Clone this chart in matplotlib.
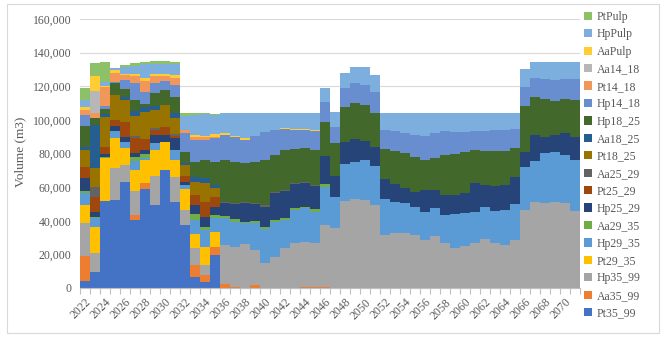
import numpy as np
import matplotlib
matplotlib.use("Agg")
import matplotlib.pyplot as plt
from matplotlib.patches import Rectangle, Patch
from matplotlib.ticker import FuncFormatter, FixedLocator

plt.rcParams['font.family'] = ['Liberation Serif', 'DejaVu Serif']

# Anni
years = list(range(2022, 2072))

# Serie (dal basso verso l'alto della pila)
Pt35_99 = [4200, 9700, 52000, 52400, 63300, 40500, 58700, 49400, 70200, 51400, 37500, 6700, 3800, 19600] + [0] * 36
Aa35_99 = [15100, 0, 0, 0, 0, 3000, 3600, 0, 0, 0, 0, 6900, 4000, 5000,
           2400, 800, 0, 1600, 0, 0, 0, 0, 600, 600, 600] + [0] * 25
Hp35_99 = [19200, 10900, 0, 18800, 9900, 14000, 0, 17300, 0, 14900, 8900, 9900, 5900, 0,
           23200, 23800, 26200, 21000, 14700, 18600, 23600, 26600, 27000, 26000, 36900, 35500,
           52000, 52700, 52400, 49400, 31500, 32500, 32500, 31500, 28600, 30900, 27000, 23600,
           25000, 27000, 29000, 27000, 25600, 28600, 46400, 51400, 50400, 51400, 50400, 46000]
Pt29_35 = [10900, 15900, 25200, 17800, 9900, 12800, 13900, 15500, 16900, 9900, 12300, 8900, 10900, 8900] + [0] * 36
Hp29_35 = [7300, 5000, 0, 4400, 4000, 5000, 1000, 4000, 0, 5900, 2600, 7900, 9900, 7900,
           15900, 14900, 12300, 15900, 20400, 20800, 16900, 19800, 19800, 18800, 22400, 18800,
           21800, 22400, 23800, 23200, 21200, 18800, 17800, 16900, 16900, 16500, 16500, 20400,
           19400, 18400, 19400, 19000, 20800, 21200, 25400, 24400, 30100, 29700, 28800, 30100]
Aa29_35 = [1000, 1000, 1000, 0, 0, 2600, 2600, 0, 0, 0, 0, 4000, 2000, 2000,
           1400, 1600, 1000, 1400, 1400, 1000, 1000, 1000, 1000, 1600, 2000] + [0] * 25
Hp25_29 = [7900, 3000, 1500, 3000, 2600, 2400, 2000, 5000, 4000, 6900, 2000, 5000, 5900, 5000,
           7900, 8900, 10900, 10100, 11900, 15900, 16300, 14300, 14300, 13700, 16700, 12300,
           13300, 13300, 11500, 11100, 11900, 10500, 8900, 8900, 12900, 10900, 11900, 11300,
           11900, 17300, 12900, 14700, 14900, 16500, 9300, 15300, 9500, 9900, 12900, 13900]
Pt25_29 = [6500, 8900, 4000, 3600, 9300, 8900, 6900, 3000, 4600, 1400, 3400, 5900, 8900, 5900] + [0] * 36
Aa25_29 = [0, 5900, 0, 0, 0, 1400, 0, 1000, 0, 1200, 0, 0, 0, 0,
           600, 800, 1000, 800, 1000, 1000, 600, 600, 600, 600] + [0] * 26
Pt18_25 = [9900, 10900, 17800, 14900, 12900, 11500, 15900, 10900, 13300, 9300, 6500, 7900, 10900, 5000] + [0] * 36
Aa18_25 = [2000, 25800, 2000, 0, 1600, 3000, 3000, 2000, 0, 3000, 1000, 3000, 3000, 2000] + [0] * 36
Hp18_25 = [12300, 4000, 3000, 6900, 5000, 6900, 2000, 7900, 8900, 9900, 6900, 8900, 10900, 13900,
           24800, 24400, 22800, 24400, 26800, 21800, 23800, 20200, 19800, 20800, 20400, 19400,
           20400, 21400, 21200, 20200, 17800, 19800, 21200, 20800, 17800, 18800, 23800, 24400,
           24800, 19400, 20400, 21000, 20400, 16900, 27200, 22400, 22200, 20400, 20200, 21800]
Hp14_18 = [6500, 0, 2000, 1000, 5000, 9900, 6900, 5900, 5000, 6900, 10900, 12900, 11900, 13900,
           14900, 14900, 13900, 15300, 16300, 14900, 12500, 11500, 10900, 11300, 11900, 9900,
           11300, 11900, 11900, 12900, 11500, 11900, 11900, 12900, 14300, 14900, 13900, 13300,
           11900, 11500, 11900, 12300, 12300, 11300, 11500, 11300, 11900, 12300, 11900, 12300]
Pt14_18 = [3000, 3000, 10900, 5000, 3000, 4000, 6900, 4000, 3000, 4000, 2000, 2000, 1600, 1000] + [0] * 36
Aa14_18 = [0, 12900] + [0] * 48
AaPulp = [2000, 8900, 1000, 1600, 1000, 1500, 1400, 1600, 1600, 2000, 0, 1000, 800, 1400,
          1000, 600, 1000, 0, 0, 0, 600, 600, 600, 600] + [0] * 26
HpPulp = [4000, 0, 2000, 1400, 4000, 4800, 8500, 5900, 5900, 6500, 8300, 11900, 13100, 11500,
          11900, 13300, 14900, 13500, 11500, 9900, 8700, 9300, 9300, 9900, 8300, 8500,
          9300, 9900, 10500, 9900, 9900, 10300, 11500, 12900, 13500, 11900, 10900, 10900,
          10900, 10300, 10300, 9900, 9900, 9500, 10300, 9900, 10500, 10900, 10500, 10500]
PtPulp = [7200, 7900, 12200, 0, 1000, 1400, 1400, 1400, 1400, 1400, 1600, 1000, 800, 600] + [0] * 36

series = [
    ("Pt35_99", Pt35_99, "#4472C4"),
    ("Aa35_99", Aa35_99, "#ED7D31"),
    ("Hp35_99", Hp35_99, "#A5A5A5"),
    ("Pt29_35", Pt29_35, "#FFC000"),
    ("Hp29_35", Hp29_35, "#5B9BD5"),
    ("Aa29_35", Aa29_35, "#70AD47"),
    ("Hp25_29", Hp25_29, "#264478"),
    ("Pt25_29", Pt25_29, "#9E480E"),
    ("Aa25_29", Aa25_29, "#636363"),
    ("Pt18_25", Pt18_25, "#997300"),
    ("Aa18_25", Aa18_25, "#255E91"),
    ("Hp18_25", Hp18_25, "#43682B"),
    ("Hp14_18", Hp14_18, "#698ED0"),
    ("Pt14_18", Pt14_18, "#F1975A"),
    ("Aa14_18", Aa14_18, "#B7B7B7"),
    ("AaPulp", AaPulp, "#FFCD33"),
    ("HpPulp", HpPulp, "#7CAFDD"),
    ("PtPulp", PtPulp, "#8CC168"),
]

W, H = 669, 340
fig = plt.figure(figsize=(W / 100, H / 100), dpi=100)
ax = fig.add_axes([80 / W, 52 / H, 500 / W, 269 / H])

x = np.arange(len(years))
bottom = np.zeros(len(years))
handles = []
for name, vals, col in series:
    v = np.array(vals, dtype=float)
    ax.bar(x, v, width=1.0, bottom=bottom, color=col, linewidth=0)
    bottom += v
    handles.append(Patch(facecolor=col, label=name))

ax.set_xlim(-0.5, len(years) - 0.5)
ax.set_ylim(0, 160000)
ax.set_yticks(np.arange(0, 160001, 20000))
ax.yaxis.set_major_formatter(FuncFormatter(lambda v, p: f"{int(v):,}"))
ax.tick_params(axis='y', length=0, labelsize=8.5, labelcolor='#595959', pad=6)
ax.yaxis.grid(True, color='#D9D9D9', linewidth=0.8)
ax.set_axisbelow(True)

ax.set_xticks(x[::2])
ax.set_xticklabels([str(y) for y in years[::2]], rotation=45, ha='right',
                   rotation_mode='anchor', fontsize=8.5, color='#595959')
ax.tick_params(axis='x', which='major', length=0, pad=6)
ax.xaxis.set_minor_locator(FixedLocator(np.arange(-0.5, len(years), 1.0)))
ax.tick_params(axis='x', which='minor', length=4, color='#BFBFBF', width=0.8)

for s in ['left', 'top', 'right']:
    ax.spines[s].set_visible(False)
ax.spines['bottom'].set_color('#BFBFBF')

fig.text(20 / W, 1 - 152 / H, "Volume (m3)", rotation=90, ha='center', va='center',
         fontsize=9.5, color='#595959')

fig.legend(handles=handles[::-1], loc='upper left', bbox_to_anchor=(584 / W, 1 - 11 / H),
           frameon=False, fontsize=8.5, handlelength=0.7, handleheight=0.7,
           labelspacing=0.46, handletextpad=0.4, borderpad=0, borderaxespad=0,
           labelcolor='#595959')

fig.patches.append(Rectangle((7 / W, 7 / H), 652 / W, 329 / H, transform=fig.transFigure,
                             fill=False, edgecolor='#D9D9D9', linewidth=0.8))

fig.savefig("out.png", dpi=100)
